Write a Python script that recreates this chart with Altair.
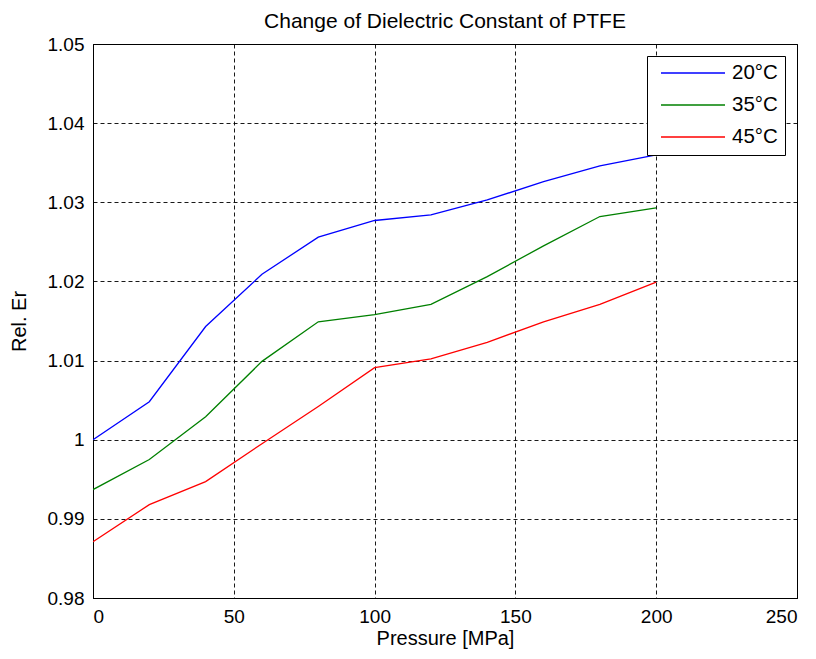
import altair as alt
import pandas as pd

pressure = [0, 20, 40, 60, 80, 100, 120, 140, 160, 180, 200]
er_20 = [1.0000, 1.0048, 1.0143, 1.0209, 1.0256, 1.0277, 1.0284, 1.0303, 1.0326, 1.0346, 1.0360]
er_35 = [0.9937, 0.9975, 1.0029, 1.0099, 1.0149, 1.0158, 1.0171, 1.0206, 1.0245, 1.0282, 1.0293]
er_45 = [0.9871, 0.9918, 0.9947, 0.9995, 1.0042, 1.0091, 1.0102, 1.0123, 1.0149, 1.0171, 1.0199]
series_names = ["20°C", "35°C", "45°C"]
series_colors = ["#0000ff", "#008000", "#ff0000"]
x_ticks = [0, 50, 100, 150, 200, 250]
y_ticks = [0.98, 0.99, 1.00, 1.01, 1.02, 1.03, 1.04, 1.05]

rows = []
for name, vals in zip(series_names, [er_20, er_35, er_45]):
    for p, v in zip(pressure, vals):
        rows.append({"Pressure": p, "Er": v, "Series": name})
df = pd.DataFrame(rows)

FONT = "Liberation Sans"

chart = alt.Chart(df).mark_line(strokeWidth=1.3, clip=True).encode(
    x=alt.X("Pressure:Q",
            scale=alt.Scale(domain=[0, 250], nice=False, zero=False),
            axis=alt.Axis(values=x_ticks, title="Pressure [MPa]", format="d")),
    y=alt.Y("Er:Q",
            scale=alt.Scale(domain=[0.98, 1.05], nice=False, zero=False),
            axis=alt.Axis(values=y_ticks, title="Rel. Er", format=".2~f")),
    color=alt.Color("Series:N",
                    scale=alt.Scale(domain=series_names, range=series_colors),
                    legend=alt.Legend(title=None, orient="none", legendX=554, legendY=12,
                                      symbolType="stroke", symbolSize=4096,
                                      symbolStrokeWidth=1.3, clipHeight=20,
                                      symbolOffset=6,
                                      labelFontSize=20.5, labelFont=FONT, labelColor="black",
                                      labelOffset=6, padding=7, rowPadding=11,
                                      fillColor="white", strokeColor="black")),
    order="Pressure:Q",
).properties(
    width=704, height=554,
    title=alt.TitleParams("Change of Dielectric Constant of PTFE", font=FONT, fontSize=21,
                          fontWeight="normal", color="black", offset=3, frame="group"),
    autosize=alt.AutoSizeParams(type="none"),
    padding={"left": 85, "top": 36, "right": 5, "bottom": 53},
).configure_view(
    stroke="black", strokeWidth=1
).configure_axis(
    grid=True, gridColor="black", gridDash=[4, 3], gridOpacity=0.9, gridWidth=1,
    domainColor="black", domainWidth=1, ticks=False,
    labelFont=FONT, labelFontSize=19, labelColor="black", labelPadding=9,
    titleFont=FONT, titleFontSize=20, titleFontWeight="normal", titleColor="black",
).configure_axisX(
    titlePadding=2
).configure_axisY(
    titlePadding=18
)

chart.save("out.html", embed_options={"renderer": "svg", "actions": False})
